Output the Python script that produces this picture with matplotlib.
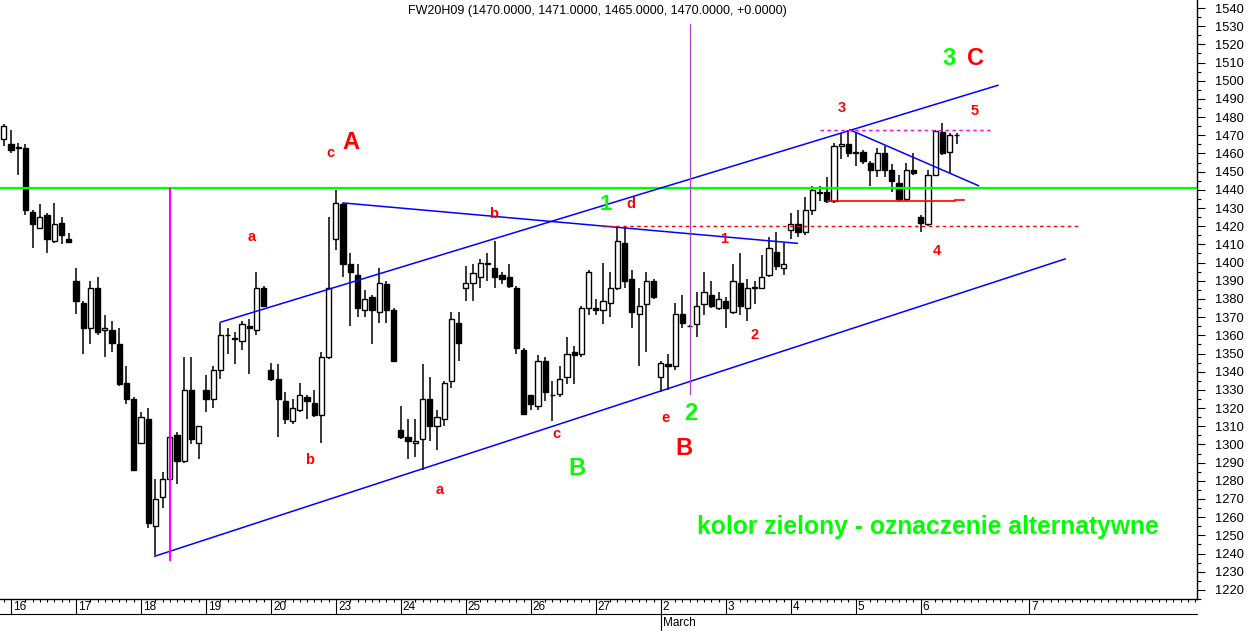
import numpy as np
import matplotlib.pyplot as plt
from matplotlib.lines import Line2D
from matplotlib import transforms

plt.rcParams['font.family'] = ['Liberation Sans', 'DejaVu Sans']

# hourly candles of FW20H09, first one is the last bar of the 13th
first_bar = -1
opens = [1468, 1465, 1463, 1463, 1428, 1419, 1426, 1412, 1422, 1413,
         1390, 1378, 1364, 1386, 1363, 1363, 1355, 1334, 1325,
         1301, 1314, 1255, 1271, 1281, 1305, 1291, 1330, 1301,
         1330, 1325, 1341, 1360, 1358, 1357, 1365, 1363, 1386,
         1341, 1336, 1324, 1313, 1319, 1326, 1323, 1316, 1348,
         1413, 1432, 1399, 1393, 1374, 1381, 1373, 1388, 1374,
         1308, 1304, 1301, 1303, 1325, 1310, 1314, 1335, 1367,
         1386, 1389, 1392, 1400, 1397, 1393, 1392, 1386, 1352,
         1327, 1321, 1346, 1327, 1328, 1337, 1351, 1350, 1375,
         1375, 1374, 1378, 1386, 1411, 1391, 1372, 1377, 1390,
         1337, 1344, 1343, 1372, 1365, 1366, 1377, 1382, 1375,
         1379, 1373, 1389, 1375, 1386, 1386, 1393, 1406, 1397,
         1418, 1421, 1417, 1429, 1439, 1439, 1434, 1464, 1465,
         1460, 1461, 1455, 1451, 1460, 1451, 1444, 1435, 1451,
         1425, 1421, 1448, 1472, 1461, 1470]
highs = [1476, 1473, 1466, 1465, 1429, 1432, 1427, 1433, 1425, 1416,
         1397, 1379, 1390, 1392, 1371, 1368, 1364, 1343, 1326,
         1318, 1320, 1281, 1285, 1305, 1307, 1348, 1348, 1310,
         1338, 1343, 1367, 1364, 1362, 1368, 1369, 1395, 1387,
         1345, 1344, 1329, 1325, 1334, 1327, 1330, 1351, 1425,
         1440, 1433, 1405, 1399, 1385, 1382, 1397, 1390, 1375,
         1321, 1314, 1314, 1344, 1337, 1319, 1335, 1373, 1373,
         1398, 1399, 1402, 1405, 1412, 1395, 1399, 1387, 1353,
         1327, 1349, 1348, 1335, 1343, 1359, 1354, 1376, 1396,
         1380, 1400, 1395, 1420, 1420, 1396, 1386, 1395, 1391,
         1346, 1350, 1378, 1382, 1365.5, 1384, 1395, 1390, 1384,
         1381, 1399, 1405, 1391, 1390, 1404, 1414, 1417, 1411,
         1427, 1429, 1436, 1442, 1442, 1447, 1466, 1471, 1473,
         1471, 1462, 1456, 1463, 1464, 1454, 1448, 1455, 1460,
         1426, 1451, 1473, 1477, 1471, 1471]
lows = [1464, 1460, 1448, 1426, 1408, 1419, 1405, 1411, 1410, 1411,
        1372, 1350, 1355, 1360, 1348, 1351, 1332, 1322, 1286,
        1300, 1254, 1239, 1265, 1280, 1278, 1290, 1300, 1292,
        1318, 1320, 1336, 1350, 1344, 1352, 1339, 1360, 1376,
        1335, 1304, 1311, 1311, 1318, 1314, 1315, 1301, 1347,
        1407, 1392, 1365, 1370, 1370, 1355, 1367, 1367, 1346,
        1303, 1292, 1293, 1286, 1302, 1297, 1310, 1331, 1346,
        1379, 1379, 1386, 1390, 1386, 1388, 1386, 1350, 1317,
        1319, 1319, 1324, 1313, 1326, 1333, 1333, 1348, 1371,
        1371, 1366, 1370, 1385, 1386, 1364, 1343, 1351, 1380,
        1329, 1330, 1341, 1364, 1364.5, 1359, 1371, 1375, 1374,
        1364, 1372, 1371, 1368, 1377, 1386, 1392, 1396, 1393,
        1413, 1414, 1415, 1426, 1434, 1433, 1433, 1457, 1458,
        1453, 1454, 1442, 1447, 1447, 1439, 1434, 1434, 1448,
        1417, 1420, 1448, 1459, 1449, 1465]
closes = [1475, 1462, 1463, 1429, 1421, 1425, 1413, 1421, 1415, 1411.5,
          1379, 1364, 1386, 1362, 1364, 1356, 1333, 1325, 1286,
          1315, 1257, 1270, 1281, 1304, 1291, 1330, 1303, 1310,
          1325, 1341, 1360, 1360, 1358, 1366, 1364, 1386, 1376,
          1336, 1325, 1314, 1320, 1327, 1324, 1316, 1348, 1386,
          1433, 1399, 1395, 1375, 1380, 1374, 1389, 1374, 1346,
          1304, 1302, 1302, 1325, 1310, 1315, 1334, 1369, 1356,
          1389, 1394, 1400, 1399, 1392, 1391, 1387, 1353, 1317,
          1322, 1346, 1329, 1327, 1336, 1350, 1349, 1375, 1395,
          1374, 1379, 1386, 1412, 1390, 1373, 1376, 1390, 1381,
          1345, 1343, 1372, 1367, 1365, 1376, 1384, 1376, 1380,
          1375, 1390, 1376, 1386, 1386, 1392, 1408, 1398, 1399,
          1421, 1417, 1429, 1440, 1438.5, 1434, 1464, 1465, 1460,
          1461, 1456, 1451, 1460, 1451, 1445, 1435, 1451, 1449,
          1422, 1448, 1472.5, 1460, 1470, 1470]

day_labels = ['16', '17', '18', '19', '20', '23', '24', '25', '26', '27',
              '2', '3', '4', '5', '6', '7']
day_bars = [0, 9, 18, 27, 36, 45, 54, 63, 72, 81, 90, 99, 108, 117, 126, 141]
month_label = 'March'
month_bar = 90

title = 'FW20H09 (1470.0000, 1471.0000, 1465.0000, 1470.0000, +0.0000)'

# hand drawn analysis lines: (bar, price) end points
green_level = 1441
lower_channel = [(19.9, 1238.5), (146.0, 1402.0)]
upper_channel = [(29.0, 1367.2), (136.7, 1497.5)]
a_down_line = [(46.0, 1432.8), (108.9, 1410.6)]
top_down_line = [(116.2, 1473.0), (134.0, 1442.3)]
red_level = [(113.2, 1433.7), (130.7, 1433.7)]
red_stub = [(130.7, 1434.3), (132.0, 1434.3)]
red_dashed = [(81.8, 1420.2), (148.2, 1420.2)]
magenta_dashed = [(112.0, 1472.8), (135.6, 1472.8)]
magenta_vline = [(22.06, 1236.5), (22.06, 1440.5)]
violet_vline = [(94.0, 1328.0), (94.0, 1531.0)]

# wave labels: (text, bar, price, colour, size)
labels = [
    ('A', 47.1, 1466.3, 'red', 17), ('B', 93.2, 1298.0, 'red', 17),
    ('C', 133.6, 1512.0, 'red', 17), ('3', 129.9, 1512.0, 'lime', 17),
    ('1', 82.4, 1432.0, 'lime', 16), ('2', 94.2, 1316.8, 'lime', 17),
    ('B', 78.4, 1287.0, 'lime', 17),
    ('c', 44.3, 1460.5, 'red', 10.5), ('a', 33.4, 1414.3, 'red', 10.5),
    ('b', 41.4, 1291.5, 'red', 10.5), ('b', 66.8, 1426.8, 'red', 10.5),
    ('d', 85.9, 1432.0, 'red', 10.5), ('a', 59.4, 1275.2, 'red', 10.5),
    ('c', 75.6, 1306.0, 'red', 10.5), ('e', 90.7, 1314.7, 'red', 10.5),
    ('1', 98.8, 1412.8, 'red', 10.5), ('2', 103.0, 1360.0, 'red', 10.5),
    ('3', 115.0, 1484.8, 'red', 10.5), ('4', 128.3, 1406.2, 'red', 10.5),
    ('5', 133.5, 1483.1, 'red', 10.5),
]
note = 'kolor zielony - oznaczenie alternatywne'
note_pos = (95.0, 1254.4)

W, H = 1250, 631
fig = plt.figure(figsize=(W / 100, H / 100), dpi=100)
ax = fig.add_axes([0, 32 / H, 1197 / W, 599 / H])
ax.set_xlim(-1.52, 164.27)
ax.set_ylim(1215.1, 1544.4)

o = np.array(opens, float)
h = np.array(highs, float)
l = np.array(lows, float)
c = np.array(closes, float)
x = np.arange(first_bar, first_bar + len(o))
up = c >= o

ax.vlines(x, l, h, color='black', lw=1.1, zorder=2)
body_lo = np.minimum(o, c)
body_h = np.maximum(np.abs(c - o), 0.35)
ax.bar(x, body_h, bottom=body_lo, width=0.72,
       color=np.where(up, 'white', 'black'), edgecolor='black',
       linewidth=1.0, zorder=2.5)

def seg(pts, **kw):
    xs, ys = zip(*pts)
    ax.plot(xs, ys, zorder=3, **kw)

ax.axhline(green_level, color='#00ff00', lw=1.6, zorder=3)
seg(lower_channel, color='#0000ff', lw=1.1)
seg(upper_channel, color='#0000ff', lw=1.1)
seg(a_down_line, color='#0000ff', lw=1.1)
seg(top_down_line, color='#0000ff', lw=1.1)
seg(red_level, color='#ff0000', lw=1.2)
seg(red_stub, color='#ff0000', lw=1.2)
seg(red_dashed, color='#ff0000', lw=1.0, dashes=(2.5, 2.5))
seg(magenta_dashed, color='#ff00ff', lw=1.0, dashes=(2.5, 2.5))
seg(magenta_vline, color='#ff00ff', lw=1.5)
seg(violet_vline, color='#b040d0', lw=0.9)

for txt, bx, py, col, fs in labels:
    colour = '#ff0000' if col == 'red' else '#00ff00'
    ax.text(bx, py, txt, color=colour, fontsize=fs, fontweight='bold',
            ha='center', va='center', zorder=4)
ax.text(note_pos[0], note_pos[1], note, color='#00ff00', fontsize=17.7,
        fontweight='bold', ha='left', va='center', zorder=4)

fig.text(597 / W, 1 - 11 / H, title, ha='center', va='center', fontsize=9)

# axes styling
for side in ('left', 'top'):
    ax.spines[side].set_visible(False)
ax.spines['right'].set_linewidth(1.0)
ax.spines['bottom'].set_linewidth(1.0)

ax.yaxis.tick_right()
ax.set_yticks(np.arange(1220, 1541, 10))
ax.set_yticks(np.arange(1215, 1545, 5), minor=True)
ax.tick_params(axis='y', which='major', length=6, width=0.8, pad=7,
               labelsize=9.3)
ax.tick_params(axis='y', which='minor', length=3, width=0.8)

ax.set_xticks(day_bars)
ax.set_xticklabels([])
skip = set(day_bars) | {b + 1 for b in day_bars}
ax.set_xticks([b for b in range(-1, 165) if b not in skip], minor=True)
ax.tick_params(axis='x', which='major', length=10.5, width=0.8)
ax.tick_params(axis='x', which='minor', length=2.5, width=0.8)

for b, lab in zip(day_bars, day_labels):
    ax.annotate(lab, xy=(b, 0), xycoords=('data', 'axes fraction'),
                xytext=(1.5, -1.5), textcoords='offset points',
                ha='left', va='top', fontsize=8.5)

tr = transforms.blended_transform_factory(ax.transData, fig.transFigure)
sep_y = (H - 614) / H
fig.add_artist(Line2D([0, 1197 / W], [sep_y, sep_y], color='black', lw=0.8))
fig.add_artist(Line2D([month_bar, month_bar], [sep_y, 0], color='black',
                      lw=0.8, transform=tr))
ax.annotate(month_label, xy=(month_bar, sep_y), xycoords=tr,
            xytext=(1.8, -2), textcoords='offset points',
            ha='left', va='top', fontsize=8.5)

fig.savefig('out.png', dpi=100)
